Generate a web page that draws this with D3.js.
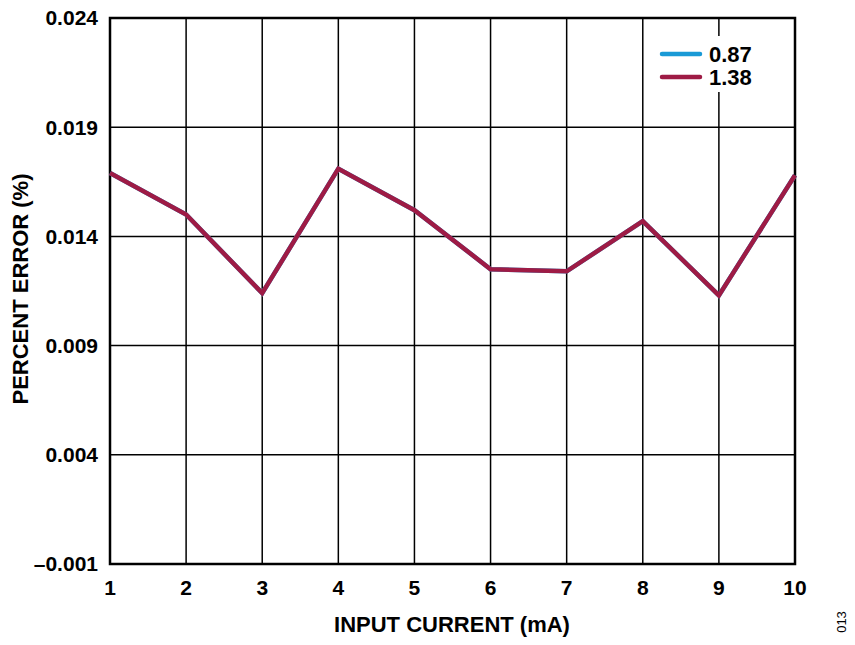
<!DOCTYPE html>
<html><head><meta charset="utf-8">
<script src="https://cdn.jsdelivr.net/npm/d3@7"></script>
<style>body{margin:0;background:#fff;} svg{display:block;font-family:"Liberation Sans",Arial,sans-serif;}</style>
</head><body>
<script>
const currents = [1,2,3,4,5,6,7,8,9,10];
const series087 = [0.0169,0.0150,0.0114,0.0171,0.0152,0.0125,0.0124,0.0147,0.0113,0.0168];
const series138 = [0.0169,0.0150,0.0114,0.0171,0.0152,0.0125,0.0124,0.0147,0.0113,0.0168];
const yTicks = [-0.001,0.004,0.009,0.014,0.019,0.024];
const xTicks = [1,2,3,4,5,6,7,8,9,10];
const legendLabels = ["0.87","1.38"];
const colors = ["#1A9AD6","#9E1B45"];

const W=855,H=645;
const m={l:110,t:18,r:795,b:564};
const svg=d3.select("body").append("svg").attr("width",W).attr("height",H);
const x=d3.scaleLinear().domain([1,10]).range([m.l,m.r]);
const y=d3.scaleLinear().domain([-0.001,0.024]).range([m.b,m.t]);

// grid
svg.append("g").selectAll("line").data(xTicks).join("line")
  .attr("x1",d=>x(d)).attr("x2",d=>x(d)).attr("y1",m.t).attr("y2",m.b)
  .attr("stroke","#000").attr("stroke-width",1.5);
svg.append("g").selectAll("line").data(yTicks).join("line")
  .attr("y1",d=>y(d)).attr("y2",d=>y(d)).attr("x1",m.l).attr("x2",m.r)
  .attr("stroke","#000").attr("stroke-width",1.5);

// legend background gap in grid line at x=9
svg.append("rect").attr("x",650).attr("y",36).attr("width",110).attr("height",56).attr("fill","#fff");

// frame
svg.append("rect").attr("x",m.l).attr("y",m.t).attr("width",m.r-m.l).attr("height",m.b-m.t)
  .attr("fill","none").attr("stroke","#000").attr("stroke-width",2.5);

// axes labels
const fmt=d=>(d<0?"\u2013":"")+Math.abs(d).toFixed(3);
svg.append("g").selectAll("text").data(yTicks).join("text")
  .attr("x",m.l-12).attr("y",d=>y(d)).attr("dy","0.35em").attr("text-anchor","end")
  .attr("font-size",21).attr("font-weight","bold").text(fmt);
svg.append("g").selectAll("text").data(xTicks).join("text")
  .attr("x",d=>x(d)).attr("y",m.b+31).attr("text-anchor","middle")
  .attr("font-size",21).attr("font-weight","bold").text(d=>d);

svg.append("text").attr("x",452).attr("y",632).attr("text-anchor","middle")
  .attr("font-size",22).attr("font-weight","bold").text("INPUT CURRENT (mA)");
svg.append("text").attr("transform",`translate(28,289) rotate(-90)`).attr("text-anchor","middle")
  .attr("font-size",22).attr("font-weight","bold").text("PERCENT ERROR (%)");
svg.append("text").attr("transform",`translate(846,622) rotate(-90)`).attr("text-anchor","middle")
  .attr("font-size",13).text("013");

// lines
const line=d3.line().x((d,i)=>x(currents[i])).y(d=>y(d));
[series087,series138].forEach((s,k)=>{
  svg.append("path").datum(s).attr("d",line).attr("fill","none")
    .attr("stroke",colors[k]).attr("stroke-width",4.5).attr("stroke-linejoin","miter");
});

// legend
legendLabels.forEach((lab,k)=>{
  const ly=54+k*23;
  svg.append("line").attr("x1",662).attr("x2",700).attr("y1",ly).attr("y2",ly)
    .attr("stroke",colors[k]).attr("stroke-width",4.5).attr("stroke-linecap","round");
  svg.append("text").attr("x",709).attr("y",ly).attr("dy","0.36em")
    .attr("font-size",22).attr("font-weight","bold").text(lab);
});
</script>
</body></html>
